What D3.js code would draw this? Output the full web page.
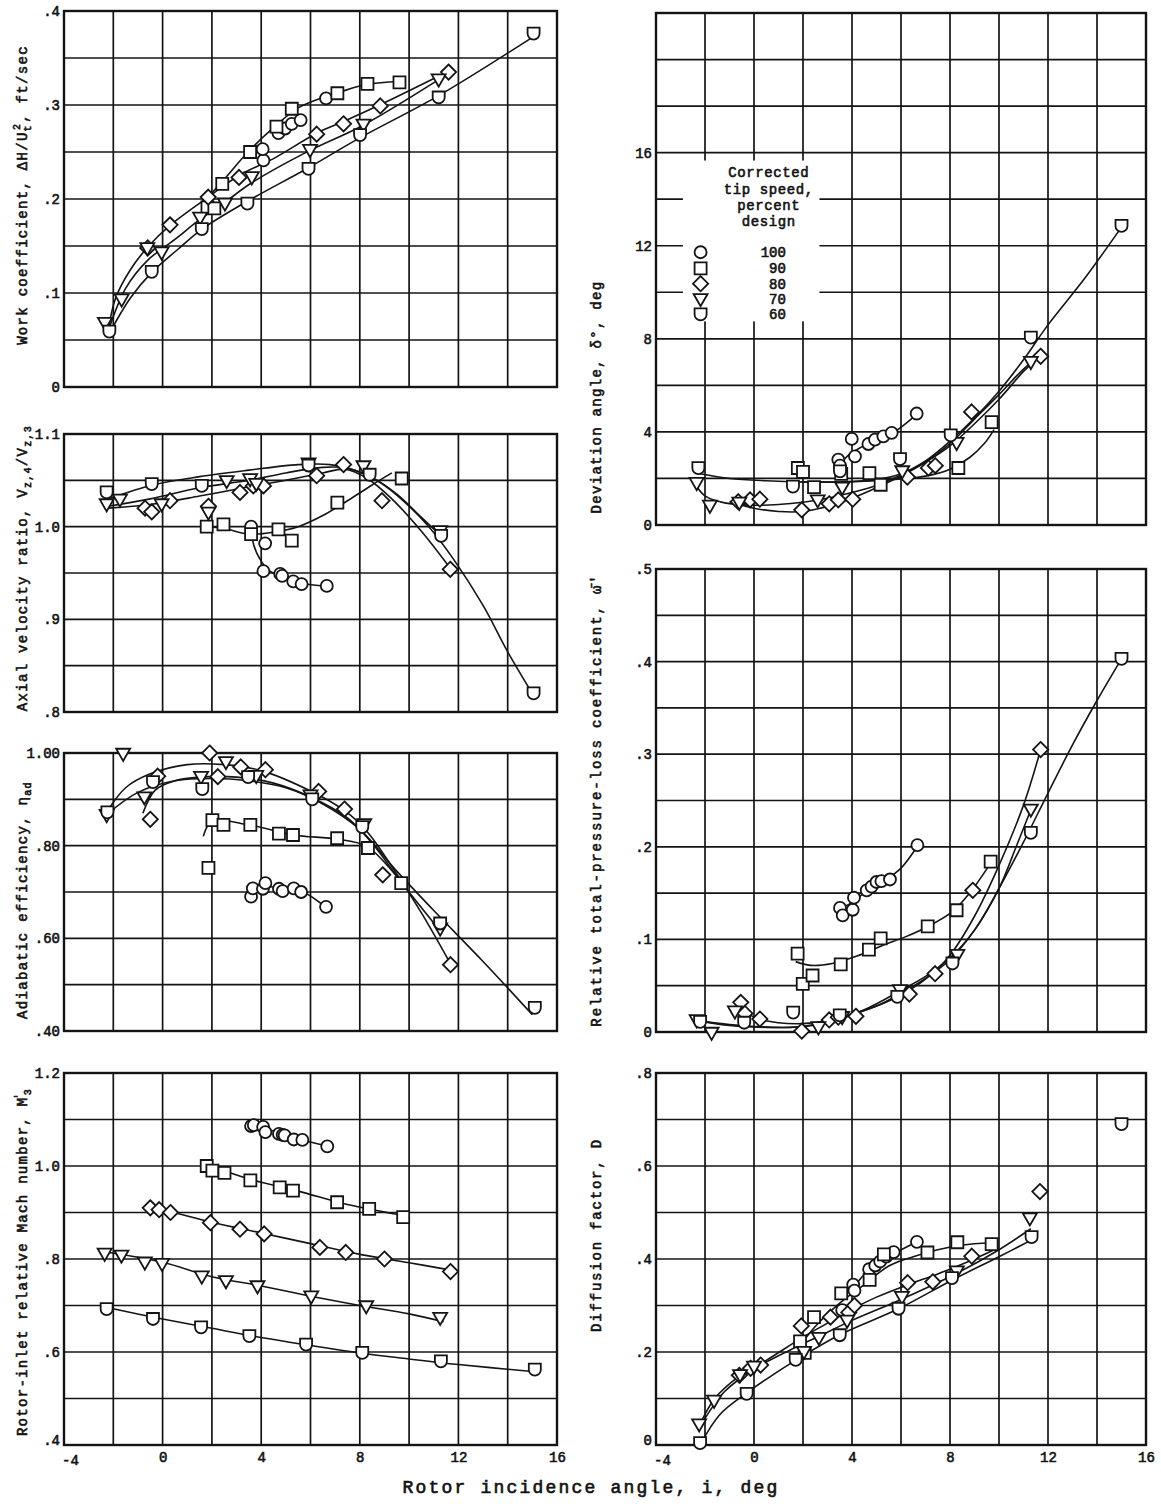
<!DOCTYPE html>
<html>
<head>
<meta charset="utf-8">
<script src="https://cdn.jsdelivr.net/npm/d3@7"></script>
<style>
  body { margin: 0; background: #fff; }
  text { font-family: "Liberation Mono", "DejaVu Sans Mono", monospace; fill: #111; }
</style>
</head>
<body>
<svg id="fig" width="1161" height="1504"></svg>
<script>
// Corrected tip speed (percent design) and the symbol used for each
const speedLabels = [100, 90, 80, 70, 60];
const speedSymbols = ["circle", "square", "diamond", "triangle", "shield"];
const incidenceTicks = [-4, 0, 4, 8, 12, 16];

// ---- Work coefficient: [speed, incidence deg, value]
const workPoints = [
  [100,4.09,.241],[100,4.06,.253],[100,4.70,.270],[100,4.97,.275],[100,5.24,.280],[100,5.60,.284],[100,6.63,.307],
  [90,1.82,.191],[90,2.10,.190],[90,2.42,.216],[90,3.55,.250],[90,4.62,.277],[90,5.24,.296],[90,7.09,.3125],[90,8.31,.3225],[90,9.61,.324],
  [80,-0.60,.148],[80,0.30,.1725],[80,1.85,.202],[80,3.10,.223],[80,6.25,.269],[80,7.34,.280],[80,8.83,.299],[80,11.6,.335],
  [70,-2.34,.068],[70,-1.66,.093],[70,-0.62,.1475],[70,-0.04,.143],[70,1.52,.180],[70,2.53,.195],[70,3.62,.223],[70,5.98,.252],[70,8.15,.279],[70,11.2,.327],
  [60,-2.16,.059],[60,-0.44,.1225],[60,1.59,.168],[60,3.44,.195],[60,5.92,.232],[60,8.01,.268],[60,11.2,.308],[60,15.05,.376]
];
const workCurves = [
  [90, [[1.6,.195],[2.4,.218],[3.5,.251],[4.5,.276],[5.5,.297],[6.5,.308],[7.1,.313],[8.3,.322],[9.6,.325]]],
  [80, [[-2.2,.062],[-1.9,.095],[-1.3,.125],[-0.6,.149],[0.3,.172],[1.9,.203],[3.1,.225],[4.5,.243],[6.25,.27],[7.3,.282],[8.8,.3],[11.6,.336]]],
  [70, [[-2.2,.06],[-1.5,.105],[-0.6,.135],[0.5,.157],[1.5,.178],[2.5,.196],[3.6,.217],[6,.252],[8.1,.278],[11.2,.327]]],
  [60, [[-2.1,.06],[-1.3,.095],[-0.4,.123],[0.6,.146],[1.6,.168],[3.4,.197],[5.9,.233],[8,.265],[11.2,.31],[15,.372]]]
];

// ---- Axial velocity ratio
const axialPoints = [
  [100,3.59,1.0],[100,4.16,.982],[100,4.09,.952],[100,4.77,.949],[100,4.85,.947],[100,5.30,.941],[100,5.64,.938],[100,6.66,.936],
  [90,1.79,1.0],[90,2.47,1.0025],[90,3.59,.992],[90,4.70,.997],[90,5.24,.985],[90,7.09,1.026],[90,9.70,1.052],
  [80,-0.71,1.020],[80,-0.44,1.016],[80,0.30,1.028],[80,1.86,1.022],[80,3.14,1.037],[80,3.68,1.044],[80,4.09,1.044],[80,6.25,1.055],[80,7.34,1.067],[80,8.90,1.028],[80,11.67,.954],
  [70,-2.27,1.024],[70,-1.73,1.029],[70,-0.04,1.024],[70,1.86,1.015],[70,2.60,1.049],[70,3.55,1.051],[70,3.80,1.046],[70,5.92,1.068],[70,8.15,1.065],[70,11.26,.995],
  [60,-2.27,1.037],[60,-0.44,1.046],[60,1.59,1.044],[60,5.92,1.066],[60,8.40,1.056],[60,11.30,.990],[60,15.05,.820]
];
const axialCurves = [
  [100, [[3.6,.999],[3.7,.98],[3.95,.965],[4.3,.953],[4.9,.945],[5.6,.939],[6.66,.936]]],
  [90, [[1.8,1.0],[2.5,.998],[3.5,.992],[4.5,.994],[5.5,1.0],[6.5,1.012],[7.5,1.028],[8.5,1.045],[9.3,1.058]]],
  [80, [[-2.2,1.02],[-0.5,1.024],[1.5,1.033],[3.5,1.043],[5,1.05],[6.5,1.058],[7.4,1.062],[8.3,1.052],[9.3,1.03],[10.5,.995],[11.7,.954]]],
  [70, [[-2.2,1.022],[-0.5,1.03],[1.5,1.042],[3.5,1.05],[5,1.058],[6.5,1.064],[7.5,1.063],[8.5,1.053],[9.5,1.035],[10.5,1.01],[11.3,.99]]],
  [60, [[-2.2,1.03],[-0.4,1.045],[1.5,1.054],[3.5,1.061],[5.5,1.067],[6.8,1.067],[7.8,1.061],[8.8,1.048],[9.8,1.027],[10.8,1.0],[11.8,.965],[13,.915],[14,.865],[15,.82]]]
];

// ---- Adiabatic efficiency
const effPoints = [
  [100,3.59,.690],[100,3.66,.708],[100,4.07,.707],[100,4.17,.719],[100,4.72,.707],[100,4.87,.702],[100,5.32,.708],[100,5.62,.700],[100,6.63,.668],
  [90,1.86,.752],[90,2.02,.855],[90,2.47,.845],[90,3.56,.845],[90,4.72,.826],[90,5.29,.823],[90,7.08,.816],[90,8.33,.795],[90,9.68,.719],
  [80,-0.50,.857],[80,-0.20,.950],[80,1.91,1.0],[80,2.24,.949],[80,3.17,.970],[80,4.17,.964],[80,6.33,.917],[80,7.38,.879],[80,8.93,.737],[80,11.68,.543],
  [70,-1.60,.998],[70,-2.27,.866],[70,-0.74,.904],[70,1.56,.948],[70,2.57,.980],[70,3.80,.950],[70,6.00,.908],[70,8.18,.846],[70,11.26,.621],
  [60,-2.24,.872],[60,-0.39,.937],[60,1.61,.922],[60,3.47,.948],[60,6.07,.900],[60,8.10,.840],[60,11.26,.632],[60,15.10,.450]
];
const effCurves = [
  [100, [[3.6,.708],[4.2,.712],[5,.707],[5.7,.70],[6.6,.668]]],
  [90, [[1.65,.82],[2.0,.852],[3.5,.845],[5.3,.823],[7.1,.814],[8.3,.798],[9.7,.72]]],
  [80, [[-2.3,.87],[-1.5,.925],[-0.5,.955],[1,.975],[2.5,.975],[4,.962],[6,.918],[7.4,.875],[8.3,.83],[9.3,.755],[10.5,.655],[11.7,.543]]],
  [70, [[-0.8,.87],[-0.3,.92],[0.5,.94],[1.5,.948],[3,.948],[4.5,.935],[6,.905],[7.5,.86],[8.5,.805],[9.7,.72],[11.2,.62]]],
  [60, [[-2.2,.87],[-1,.915],[0.5,.94],[2,.945],[3.5,.94],[5,.925],[6.5,.89],[8,.835],[9.5,.745],[11,.66],[13,.55],[15,.435]]]
];

// ---- Rotor-inlet relative Mach number
const machPoints = [
  [100,3.59,1.086],[100,3.70,1.088],[100,4.08,1.084],[100,4.17,1.073],[100,4.72,1.069],[100,4.87,1.067],[100,4.95,1.066],[100,5.32,1.057],[100,5.67,1.056],[100,6.68,1.042],
  [90,1.79,1.0],[90,2.02,.990],[90,2.51,.985],[90,3.56,.969],[90,4.75,.954],[90,5.29,.947],[90,7.08,.922],[90,8.38,.908],[90,9.76,.890],
  [80,-0.50,.910],[80,-0.14,.906],[80,0.32,.900],[80,1.94,.878],[80,3.14,.864],[80,4.12,.854],[80,6.38,.825],[80,7.43,.814],[80,9.00,.800],[80,11.68,.773],
  [70,-2.35,.811],[70,-1.67,.807],[70,-0.72,.792],[70,-0.02,.789],[70,1.59,.762],[70,2.57,.752],[70,3.85,.741],[70,6.03,.719],[70,8.26,.698],[70,11.26,.673],
  [60,-2.27,.692],[60,-0.39,.671],[60,1.56,.653],[60,3.52,.634],[60,5.82,.616],[60,8.10,.598],[60,11.29,.580],[60,15.10,.562]
];
const machCurves = [
  [100, [[3.6,1.088],[4.5,1.075],[5.5,1.058],[6.7,1.043]]],
  [90, [[1.8,1.003],[3.5,.972],[5.5,.946],[7.5,.917],[9.8,.893]]],
  [80, [[-0.5,.914],[2,.879],[4,.856],[6,.833],[8,.81],[10,.792],[11.7,.776]]],
  [70, [[-2.3,.815],[0,.793],[2,.762],[4,.742],[6,.72],[8,.70],[10,.682],[11.4,.665]]],
  [60, [[-2.2,.695],[0,.671],[2,.651],[4,.631],[6,.614],[8,.598],[10,.585],[12,.573],[15,.558]]]
];

// ---- Deviation angle, deg
const devPoints = [
  [100,3.44,2.81],[100,3.51,2.55],[100,3.99,3.70],[100,4.12,2.95],[100,4.67,3.48],[100,4.94,3.67],[100,5.28,3.81],[100,5.62,3.96],[100,6.64,4.79],
  [90,1.79,2.45],[90,2.00,2.28],[90,2.45,1.63],[90,3.56,2.20],[90,4.71,2.23],[90,5.17,1.73],[90,8.34,2.45],[90,9.70,4.42],
  [80,-0.64,1.00],[80,-0.16,1.08],[80,0.24,1.11],[80,1.95,0.65],[80,3.07,0.91],[80,3.44,1.08],[80,4.03,1.11],[80,6.26,2.06],[80,7.12,2.45],[80,7.40,2.55],[80,8.88,4.86],[80,11.70,7.25],
  [70,-2.34,1.80],[70,-1.80,0.82],[70,-0.60,0.95],[70,2.60,1.05],[70,3.60,1.60],[70,6.05,2.30],[70,8.27,3.52],[70,11.30,7.00],
  [60,-2.27,2.44],[60,1.59,1.65],[60,3.51,2.30],[60,5.96,2.83],[60,8.03,3.85],[60,11.30,8.05],[60,15.00,12.85]
];
const devCurves = [
  [100, [[3.5,2.55],[3.8,2.95],[4.3,3.3],[4.9,3.6],[5.6,3.9],[6.64,4.75]]],
  [90, [[1.9,1.85],[3,1.85],[4,1.86],[5,1.9],[6,1.98],[7,2.1],[8,2.4],[8.8,2.9],[9.4,3.5],[9.8,4.1]]],
  [80, [[-1,1.0],[0,0.72],[1,0.58],[2,0.58],[3,0.8],[4,1.15],[5,1.6],[6,2.1],[7,2.7],[8,3.5],[9,4.55],[10,5.6],[11,6.7],[11.7,7.3]]],
  [70, [[-2.4,1.75],[-2,1.25],[-1.2,0.95],[0,0.85],[1,0.88],[2,0.98],[3,1.15],[4,1.4],[5,1.7],[6,2.15],[7,2.7],[8,3.4],[9,4.35],[10,5.4],[11,6.6],[11.4,7.0]]],
  [60, [[-2.2,2.2],[-1,2.0],[0.5,1.9],[2,1.85],[3.5,1.85],[5,1.95],[6,2.2],[7,2.75],[8,3.6],[9,4.6],[10,5.75],[11,7.1],[12,8.6],[13.5,10.6],[15,12.8]]]
];

// ---- Relative total-pressure-loss coefficient
const lossPoints = [
  [100,3.51,.134],[100,3.62,.126],[100,4.03,.132],[100,4.08,.145],[100,4.60,.153],[100,4.80,.157],[100,5.00,.162],[100,5.20,.163],[100,5.55,.1647],[100,6.67,.2018],
  [90,1.78,.0847],[90,1.99,.052],[90,2.39,.061],[90,3.54,.073],[90,4.69,.089],[90,5.17,.101],[90,7.09,.114],[90,8.27,.1315],[90,9.66,.184],
  [80,-0.54,.032],[80,-0.37,.020],[80,0.24,.014],[80,1.95,.001],[80,3.07,.013],[80,3.44,.016],[80,4.16,.017],[80,6.34,.041],[80,7.39,.063],[80,8.93,.153],[80,11.70,.305],
  [70,-2.34,.0126],[70,-1.73,-.001],[70,-0.78,.022],[70,2.63,.005],[70,3.60,.016],[70,5.96,.045],[70,8.30,.083],[70,11.30,.240],
  [60,-2.20,.011],[60,-0.40,.010],[60,1.60,.021],[60,3.50,.018],[60,5.85,.038],[60,8.10,.074],[60,11.30,.215],[60,15.00,.403]
];
const lossCurves = [
  [100, [[3.5,.133],[4,.14],[4.6,.152],[5.3,.163],[6,.177],[6.7,.202]]],
  [90, [[1.7,.076],[2.3,.072],[3.2,.074],[4.2,.082],[5.2,.093],[6.2,.103],[7.1,.114],[8.1,.13],[8.8,.15],[9.6,.18]]],
  [80, [[-0.6,.03],[0,.016],[1,.01],[2,.009],[3,.012],[4,.019],[5,.028],[6,.04],[7,.057],[8,.083],[9,.125],[10,.18],[11,.245],[11.7,.305]]],
  [70, [[-2.3,.012],[-1,.008],[0,.006],[1.5,.005],[3,.01],[4.5,.024],[6,.045],[7,.06],[8,.08],[9,.11],[10,.155],[10.7,.2],[11.3,.24]]],
  [60, [[-2.2,.012],[-1,.007],[0.5,.005],[2,.006],[3.5,.015],[5,.028],[6,.042],[7,.058],[8,.078],[9,.11],[10,.155],[11,.205],[12,.258],[13,.31],[14,.358],[15,.403]]]
];

// ---- Diffusion factor
const diffPoints = [
  [100,3.60,.290],[100,4.05,.345],[100,4.10,.332],[100,4.70,.378],[100,4.95,.386],[100,5.15,.395],[100,5.40,.405],[100,5.70,.415],[100,6.65,.437],
  [90,1.88,.223],[90,2.07,.198],[90,2.45,.275],[90,3.56,.326],[90,4.72,.355],[90,5.30,.410],[90,7.08,.414],[90,8.30,.436],[90,9.70,.432],
  [80,-0.60,.150],[80,-0.14,.165],[80,0.27,.172],[80,1.93,.256],[80,3.12,.275],[80,3.87,.285],[80,4.10,.300],[80,6.27,.349],[80,7.30,.351],[80,8.89,.406],[80,11.67,.545],
  [70,-2.24,.044],[70,-1.63,.095],[70,-0.57,.150],[70,0.00,.168],[70,2.04,.200],[70,2.65,.230],[70,3.80,.267],[70,6.04,.318],[70,8.28,.373],[70,11.26,.487],
  [60,-2.20,.004],[60,-0.30,.110],[60,1.70,.183],[60,3.50,.236],[60,5.90,.293],[60,8.08,.359],[60,11.33,.447],[60,15.00,.690]
];
const diffCurves = [
  [100, [[4,.335],[4.7,.377],[5.5,.405],[6.65,.437]]],
  [90, [[1.9,.215],[2.5,.255],[3.5,.305],[4.5,.345],[5.5,.385],[6.5,.405],[7.5,.42],[8.5,.43],[9.7,.435]]],
  [80, [[-2.2,.045],[-1.6,.1],[-0.6,.148],[0.5,.182],[2,.232],[3,.262],[4,.292],[5,.318],[6.3,.345],[7.5,.368],[8.9,.398],[9.8,.42]]],
  [70, [[-2.2,.04],[-1.2,.115],[0,.163],[1.5,.205],[2.7,.235],[4,.268],[6,.313],[8.3,.37],[10,.42],[11.3,.465]]],
  [60, [[-2.2,.0],[-1.4,.065],[-0.3,.112],[0.8,.152],[1.7,.182],[3.5,.237],[5.9,.293],[8.1,.355],[10,.405],[11.3,.44]]]
];

// Tick values and their printed labels
const workTicks = [0, .1, .2, .3, .4],          workTickLabels = ["0", ".1", ".2", ".3", ".4"];
const axialTicks = [.8, .9, 1.0, 1.1],          axialTickLabels = [".8", ".9", "1.0", "1.1"];
const effTicks = [.4, .6, .8, 1.0],             effTickLabels = [".40", ".60", ".80", "1.00"];
const machTicks = [.4, .6, .8, 1.0, 1.2],       machTickLabels = [".4", ".6", ".8", "1.0", "1.2"];
const devTicks = [0, 4, 8, 12, 16],             devTickLabels = ["0", "4", "8", "12", "16"];
const lossTicks = [0, .1, .2, .3, .4, .5],      lossTickLabels = ["0", ".1", ".2", ".3", ".4", ".5"];
const diffTicks = [0, .2, .4, .6, .8],          diffTickLabels = ["0", ".2", ".4", ".6", ".8"];

// -------------------------------------------------------------------
const svg = d3.select("#fig");
const INK = "#141414";
const TXT_STROKE = 0.6;

function symbolPath(kind) {
  const s = 6;
  switch (kind) {
    case "circle":   return `M${s},0A${s},${s} 0 1,1 ${-s},0A${s},${s} 0 1,1 ${s},0Z`;
    case "square":   return `M${-s},${-s}H${s}V${s}H${-s}Z`;
    case "diamond":  { const d = 7.6; return `M0,${-d}L${d},0L0,${d}L${-d},0Z`; }
    case "triangle": return `M-7,-5.2H7L0,7Z`;
    case "shield":   return `M${-s},${-s}H${s}V0A${s},${s} 0 0,1 ${-s},0Z`;
  }
}
const symbolFor = sp => speedSymbols[speedLabels.indexOf(sp)];

function styleTickText(sel) {
  sel.style("font-family", "'Liberation Mono', monospace")
     .style("font-size", "14px").attr("fill", INK)
     .attr("stroke", INK).attr("stroke-width", TXT_STROKE);
}

function drawPanel(cfg) {
  const x = d3.scaleLinear().domain([-4, 16]).range([cfg.left, cfg.right]);
  const y = d3.scaleLinear().domain(cfg.domain).range([cfg.bottom, cfg.top]);
  const g = svg.append("g");

  // grid
  const gx = d3.range(-4, 16.001, 2);
  const gy = d3.range(0, Math.round((cfg.domain[1] - cfg.domain[0]) / cfg.step) + 1)
               .map(k => cfg.domain[0] + k * cfg.step);
  g.append("g").selectAll("line").data(gx).join("line")
    .attr("x1", d => x(d)).attr("x2", d => x(d))
    .attr("y1", cfg.top).attr("y2", cfg.bottom)
    .attr("stroke", INK).attr("stroke-width", 1.7);
  g.append("g").selectAll("line").data(gy).join("line")
    .attr("x1", cfg.left).attr("x2", cfg.right)
    .attr("y1", d => y(d)).attr("y2", d => y(d))
    .attr("stroke", INK).attr("stroke-width", 1.7);
  g.append("rect")
    .attr("x", cfg.left).attr("y", cfg.top)
    .attr("width", cfg.right - cfg.left).attr("height", cfg.bottom - cfg.top)
    .attr("fill", "none").attr("stroke", INK).attr("stroke-width", 2.4);

  // y tick labels
  const yAxis = d3.axisLeft(y).tickValues(cfg.ticks)
    .tickFormat((d, i) => cfg.tickLabels[i]).tickSize(0).tickPadding(4);
  const ya = g.append("g").attr("transform", `translate(${cfg.left},0)`).call(yAxis)
    .call(s => s.select(".domain").remove());
  ya.selectAll("text").call(styleTickText);
  // the lowest label sits a little high so it clears the incidence label below it
  if (cfg.xLabels) ya.selectAll(".tick").filter((d, i) => i === 0).select("text").attr("dy", "-0.05em");

  // x tick labels on the bottom panels
  if (cfg.xLabels) {
    const xAxis = d3.axisBottom(x).tickValues(incidenceTicks)
      .tickFormat(d => String(d)).tickSize(0).tickPadding(7);
    const xa = g.append("g").attr("transform", `translate(0,${cfg.bottom})`).call(xAxis)
      .call(s => s.select(".domain").remove());
    xa.selectAll("text").call(styleTickText);
    xa.selectAll(".tick").filter(d => d === -4).select("text").attr("dx", 6).attr("dy", "0.95em");
  }

  // faired curves
  const line = d3.line().x(d => x(d[0])).y(d => y(d[1])).curve(d3.curveCatmullRom.alpha(0.5));
  g.append("g").selectAll("path").data(cfg.curves).join("path")
    .attr("d", d => line(d[1]))
    .attr("fill", "none").attr("stroke", INK).attr("stroke-width", 1.6);

  // data symbols
  g.append("g").selectAll("path").data(cfg.points).join("path")
    .attr("transform", d => `translate(${x(d[1])},${y(d[2])})`)
    .attr("d", d => symbolPath(symbolFor(d[0])))
    .attr("fill", "#fff").attr("stroke", INK).attr("stroke-width", 1.8);

  // y-axis title (rotated)
  const t = svg.append("text")
    .attr("transform", `translate(${cfg.titleX},${cfg.titleY}) rotate(-90)`)
    .attr("text-anchor", "middle")
    .style("font-size", "14px").style("letter-spacing", cfg.spacing || "1.3px")
    .attr("stroke", INK).attr("stroke-width", TXT_STROKE);
  cfg.title(t);

  return { x, y, g };
}

const L = { left: 64, right: 557 };
const R = { left: 656, right: 1146 };

drawPanel({ ...L, top: 11, bottom: 387, domain: [0, .4], step: .05,
  ticks: workTicks, tickLabels: workTickLabels, points: workPoints, curves: workCurves,
  titleX: 27, titleY: 195,
  title: t => {
    t.append("tspan").text("Work coefficient, ΔH/U");
    t.append("tspan").attr("dy", 4).style("font-size", "10px").text("t");
    t.append("tspan").attr("dx", -6).attr("dy", -11).style("font-size", "10px").text("2");
    t.append("tspan").attr("dy", 7).text(", ft/sec");
  }});

drawPanel({ ...L, top: 434, bottom: 712, domain: [.8, 1.1], step: .05,
  ticks: axialTicks, tickLabels: axialTickLabels, points: axialPoints, curves: axialCurves,
  titleX: 27, titleY: 568,
  title: t => {
    t.append("tspan").text("Axial velocity ratio, V");
    t.append("tspan").attr("dy", 4).style("font-size", "10px").text("z,4");
    t.append("tspan").attr("dy", -4).text("/V");
    t.append("tspan").attr("dy", 4).style("font-size", "10px").text("z,3");
  }});

drawPanel({ ...L, top: 753, bottom: 1031, domain: [.4, 1.0], step: .1,
  ticks: effTicks, tickLabels: effTickLabels, points: effPoints, curves: effCurves,
  titleX: 27, titleY: 900,
  title: t => {
    t.append("tspan").text("Adiabatic efficiency, η");
    t.append("tspan").attr("dy", 4).style("font-size", "10px").text("ad");
  }});

drawPanel({ ...L, top: 1073, bottom: 1445, domain: [.4, 1.2], step: .1, xLabels: true,
  ticks: machTicks, tickLabels: machTickLabels, points: machPoints, curves: machCurves,
  titleX: 27, titleY: 1262,
  title: t => {
    t.append("tspan").text("Rotor-inlet relative Mach number, M");
    t.append("tspan").attr("dx", -3).attr("dy", -5).style("font-size", "10px").text("'");
    t.append("tspan").attr("dx", -3).attr("dy", 9).style("font-size", "10px").text("3");
  }});

const dev = drawPanel({ ...R, top: 13, bottom: 525, domain: [0, 22], step: 2,
  ticks: devTicks, tickLabels: devTickLabels, points: devPoints, curves: devCurves,
  titleX: 601, titleY: 397,
  title: t => { t.append("tspan").text("Deviation angle, δ°, deg"); }});

drawPanel({ ...R, top: 569, bottom: 1032, domain: [0, .5], step: .05,
  ticks: lossTicks, tickLabels: lossTickLabels, points: lossPoints, curves: lossCurves,
  titleX: 601, titleY: 800, spacing: "1.9px",
  title: t => { t.append("tspan").text("Relative total-pressure-loss coefficient, ω̄′"); }});

drawPanel({ ...R, top: 1073, bottom: 1445, domain: [0, .8], step: .1, xLabels: true,
  ticks: diffTicks, tickLabels: diffTickLabels, points: diffPoints, curves: diffCurves,
  titleX: 601, titleY: 1235, spacing: "1.8px",
  title: t => { t.append("tspan").text("Diffusion factor, D"); }});

// ---- legend inside the deviation panel
{
  const { x, y } = dev;
  const lg = svg.append("g");
  lg.append("rect")
    .attr("x", x(-2.9)).attr("y", y(15.66))
    .attr("width", x(2.67) - x(-2.9)).attr("height", y(8.75) - y(15.66))
    .attr("fill", "#fff");
  const head = ["Corrected", "tip speed,", "percent", "design"];
  const headY = [15.15, 14.45, 13.75, 13.08];
  lg.selectAll("text.h").data(head).join("text")
    .attr("x", x(0.6)).attr("y", (d, i) => y(headY[i]) + 5)
    .attr("text-anchor", "middle")
    .style("font-size", "14px").style("letter-spacing", "0.6px")
    .attr("stroke", INK).attr("stroke-width", TXT_STROKE)
    .text(d => d);
  const rowY = [11.72, 11.03, 10.37, 9.70, 9.05];
  lg.selectAll("path").data(speedLabels).join("path")
    .attr("transform", (d, i) => `translate(${x(-2.18)},${y(rowY[i])})`)
    .attr("d", (d, i) => symbolPath(speedSymbols[i]))
    .attr("fill", "#fff").attr("stroke", INK).attr("stroke-width", 1.8);
  lg.selectAll("text.v").data(speedLabels).join("text")
    .attr("x", x(1.3)).attr("y", (d, i) => y(rowY[i]) + 5)
    .attr("text-anchor", "end")
    .style("font-size", "14px")
    .attr("stroke", INK).attr("stroke-width", TXT_STROKE)
    .text(d => d);
}

// shared x-axis title
svg.append("text")
  .attr("x", 591).attr("y", 1493)
  .attr("text-anchor", "middle")
  .style("font-size", "18px").style("letter-spacing", "2.2px")
  .attr("stroke", INK).attr("stroke-width", 0.65)
  .text("Rotor incidence angle, i, deg");
</script>
</body>
</html>
